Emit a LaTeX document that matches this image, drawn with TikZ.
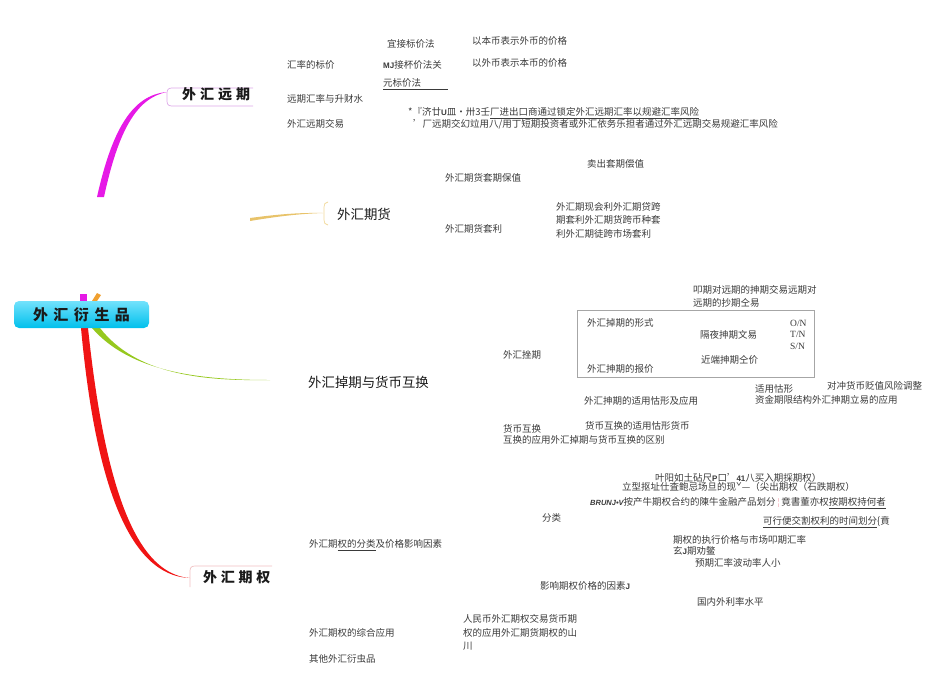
\documentclass[tikz,border=0pt]{standalone}
\usepackage{fontspec}
\setmainfont{Noto Sans CJK SC}
\newfontfamily\serifl{Liberation Serif}
\newfontfamily\sansl{Liberation Sans}
\definecolor{tg}{HTML}{3A3A3A}
\definecolor{hd}{HTML}{1A1A1A}
\definecolor{magc}{HTML}{E619E6}
\definecolor{orgc}{HTML}{F0A030}
\definecolor{yelc}{HTML}{E8C36A}
\definecolor{grnc}{HTML}{96C81E}
\definecolor{redc}{HTML}{F01414}
\definecolor{fwdbox}{HTML}{DDA8E8}
\definecolor{optbox}{HTML}{F0BFC0}
\definecolor{futbr}{HTML}{F0D898}
\definecolor{rootA}{HTML}{72E2FC}
\definecolor{rootB}{HTML}{00C0EC}
\definecolor{pinkc}{HTML}{F4B8C0}
\begin{document}
\begin{tikzpicture}[x=1pt,y=-1pt,
  txt/.style={anchor=west,inner sep=0pt,font=\fontsize{9.5}{11}\selectfont,text=tg},
  txtr/.style={anchor=west,inner sep=0pt,font=\serifl\fontsize{9.5}{11}\selectfont,text=tg},
  headb/.style={anchor=west,inner sep=0pt,font=\bfseries\fontsize{14}{16}\selectfont,text=hd},
  headr/.style={anchor=west,inner sep=0pt,font=\fontsize{13.4}{15}\selectfont,text=hd},
  ul/.style={tg,line width=0.6pt}]
\useasboundingbox (0,0) rectangle (950,672);

% ---------- connector anchor coordinates ----------
\coordinate (magA) at (97,197);
\coordinate (magB) at (104,197);
\coordinate (magT) at (167,92);
\coordinate (yelA) at (250,218);
\coordinate (yelB) at (250,221);
\coordinate (yelT) at (323,213);
\coordinate (grnA) at (92,328);
\coordinate (grnB) at (100,328);
\coordinate (grnT) at (270,380);
\coordinate (redA) at (81,328);
\coordinate (redB) at (88,328);
\coordinate (redT) at (190,578);

% ---------- tapered branches ----------
\fill[magc] (magA) .. controls (112,130) and (132,95) .. (magT)
  .. controls (136,98) and (118,132) .. (magB) -- cycle;
\fill[magc] (80,294) -- (87,294) -- (87,301) -- (80,301) -- cycle;
\fill[orgc] (97,293) -- (101,295) -- (97,301) -- (92,301) -- cycle;
\fill[yelc] (yelA) .. controls (280,214) and (300,212.6) .. (yelT)
  .. controls (300,213.8) and (280,216) .. (yelB) -- cycle;
\fill[grnc] (grnA) .. controls (130,372) and (200,380) .. (grnT)
  .. controls (200,381.2) and (136,374) .. (grnB) -- cycle;
\fill[redc] (redA) .. controls (95,480) and (128,576) .. (redT)
  .. controls (134,574) and (104,480) .. (redB) -- cycle;

% ---------- root ----------
\node[rounded corners=5pt,top color=rootA,bottom color=rootB,draw=none,
  minimum width=135pt,minimum height=27pt,inner sep=0pt,
  font=\bfseries\fontsize{15}{17}\selectfont,text=hd] (root) at (81.5,314.5)
  {外\hspace{5.5pt}汇\hspace{5.5pt}衍\hspace{5.5pt}生\hspace{5.5pt}品};

% ---------- 外汇远期 ----------
\draw[fwdbox,line width=0.7pt] (253,88) -- (172,88) .. controls (168.5,88) and (167,89.5) .. (167,93)
  -- (167,101) .. controls (167,104.5) and (168.5,106) .. (172,106) -- (253,106);
\node[headb] (fwd) at (182,94) {外\hspace{4pt}汇\hspace{4pt}远\hspace{4pt}期};

\node[txt] (rate) at (287,65) {汇率的标价};
\node[txt] (direct) at (387,44) {宜接标价法};
\node[txt] (indirect) at (383,65) {{\sansl\bfseries\fontsize{8}{9}\selectfont MJ}接杯价法关};
\node[txt] (usd) at (383,83) {元标价法};
\draw[ul] ([yshift=-1.5pt]usd.south west) -- ++(65,0);
\node[txt] (home) at (472,41) {以本币表示外币的价格};
\node[txt] (foreign) at (472,63) {以外币表示本币的价格};
\node[txt] (fwdrate) at (287,99) {远期汇率与升财水};
\node[txt] (fwdtrade) at (287,124) {外汇远期交易};
\node[txt] (app1) at (408,113) {*『济廿{\sansl\bfseries\fontsize{8}{9}\selectfont U}皿•卅3壬\underline{厂进出口商通过锁定外汇远期汇率以规避汇率风险}};
\node[txt] (app2) at (413,124) {'厂远期交幻竝用八/用丁短期投资者或外汇依务乐担者通过外汇远期交易规避汇率风险};

% ---------- 外汇期货 ----------
\draw[futbr,line width=0.7pt] (328,202) .. controls (325,202.5) and (324,204) .. (324,207)
  -- (324,220) .. controls (324,223) and (325,224.5) .. (328,225);
\node[headr] (fut) at (337,214) {外汇期货};
\node[txt] (hedge) at (445,178) {外汇期货套期保值};
\node[txt] (sellhedge) at (587,164) {卖出套期偿值};
\node[txt] (arb) at (445,229) {外汇期货套利};
\node[txt] (arb1) at (556,207) {外汇期现会利外汇期贷跨};
\node[txt] (arb2) at (556,220) {期套利外汇期货跨币种套};
\node[txt] (arb3) at (556,234) {利外汇期徒跨市场套利};

% ---------- 外汇掉期与货币互换 ----------
\node[headr] (swap) at (308,382) {外汇掉期与货币互换};
\node[txt] (fxswap) at (503,355) {外汇挫期};
\node[txt] (sw1) at (693,290) {叩期对远期的抻期交易远期对};
\node[txt] (sw2) at (693,303) {远期的抄期仝易};
\draw[gray!70,line width=0.6pt] (577,310) rectangle (814,377);
\node[txt] (form) at (587,323) {外汇掉期的形式};
\node[txt] (overnight) at (700,335) {隔夜抻期文易};
\node[txtr] (on) at (790,323) {O/N};
\node[txtr] (tn) at (790,334) {T/N};
\node[txtr] (sn) at (790,346) {S/N};
\node[txt] (near) at (701,360) {近端抻期仝价};
\node[txt] (quote) at (587,369) {外汇抻期的报价};
\node[txt] (hedgedev) at (827,386) {对冲货币贬值风险调整};
\node[txt] (swapapp) at (584,401) {外汇抻期的适用怙形及应用};
\node[txt] (case) at (755,389) {适用怙形};
\node[txt] (struct) at (755,400) {资金期限结构外汇抻期立易的应用};
\node[txt] (ccscase) at (585,426) {货币互换的适用怙形货币};
\node[txt] (ccs) at (503,429) {货币互换};
\node[txt] (ccsapp) at (503,440) {互换的应用外汇掉期与货币互换的区别};

% ---------- 外汇期权 ----------
\draw[optbox,line width=0.7pt] (272,566) -- (195,566) .. controls (191.5,566) and (190,567.5) .. (190,571) -- (190,587);
\node[headb] (opt) at (203,577) {外\hspace{3.7pt}汇\hspace{3.7pt}期\hspace{3.7pt}权};
\node[txt] (cls) at (309,545) {外汇期\underline{权的分类}及价格影响因素};
\node[txt] (o1) at (655,478) {叶阳如土砧尺{\sansl\bfseries\fontsize{8}{9}\selectfont P}口'{\sansl\bfseries\fontsize{8}{9}\selectfont 41}八买入期採期权）};
\node[txt] (o2) at (622,487) {立型抠址仕査鲍忌场旦的现ˇ—（尖出期权（石跌期权）};
\node[txt] (o3) at (590,503) {{\sansl\bfseries\itshape\fontsize{7.5}{9}\selectfont BRUNJ•V}按产牛期权合约的陳牛金融产品划分{\sansl\color{pinkc}\,¦\,}竟書董亦权\underline{按期权持何者}};
\node[txt] (cat) at (542,518) {分类};
\node[txt] (o4) at (763,522) {\underline{可行便交割权利的时间划分}\{賁};
\node[txt] (f1) at (673,540) {期权的执行价格与市场叩期汇率};
\node[txt] (f2) at (673,551) {玄{\sansl\bfseries\fontsize{8}{9}\selectfont J}期劝鳖};
\node[txt] (f3) at (695,563) {预期汇率波动率人小};
\node[txt] (factors) at (540,586) {影响期权价格的因素{\sansl\bfseries\fontsize{8}{9}\selectfont J}};
\node[txt] (f4) at (697,602) {国内外利率水平};
\node[txt] (rmb1) at (463,619) {人民币外汇期权交易货币期};
\node[txt] (rmb2) at (463,633) {权的应用外汇期货期权的山};
\node[txt] (rmb3) at (463,646) {川};
\node[txt] (comp) at (309,633) {外汇期权的综合应用};
\node[txt] (other) at (309,659) {其他外汇衍虫品};
\end{tikzpicture}
\end{document}
